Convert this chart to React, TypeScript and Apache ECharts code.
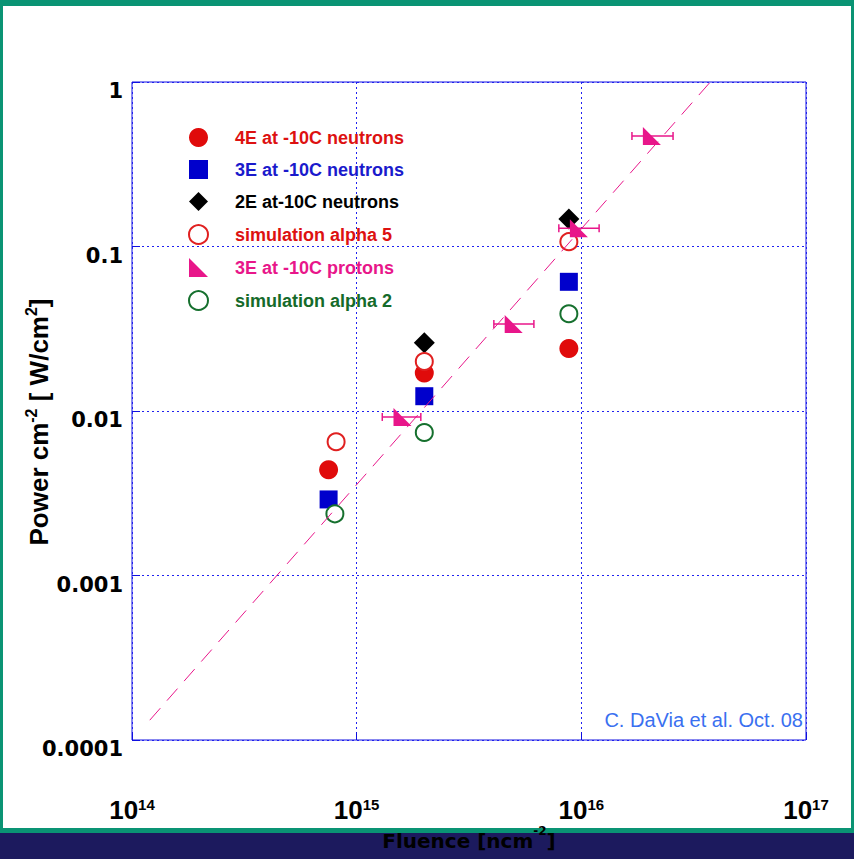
import React, { useEffect, useRef } from 'react';
import * as echarts from 'echarts';

// ---- tick labels ----
const xTickExponents = ['14', '15', '16', '17'];
const yTickValues = [1e-4, 1e-3, 1e-2, 1e-1, 1];
const yTickLabels = ['0.0001', '0.001', '0.01', '0.1', '1'];

// ---- series data (fluence [n cm^-2], power [W/cm^2]) ----
const n4E_x = [7.5e14, 2.0e15, 8.8e15];
const n4E_y = [0.0044, 0.017, 0.024];

const n3E_x = [7.5e14, 2.0e15, 8.8e15];
const n3E_y = [0.0029, 0.0123, 0.061];

const n2E_x = [2.0e15, 8.8e15];
const n2E_y = [0.026, 0.147];

const simA5_x = [8.1e14, 2.0e15, 8.8e15];
const simA5_y = [0.0065, 0.02, 0.107];

const p3E_x = [1.6e15, 5.0e15, 9.75e15, 2.06e16];
const p3E_xLow = [1.3e15, 4.08e15, 7.94e15, 1.68e16];
const p3E_xHigh = [1.93e15, 6.15e15, 1.2e16, 2.56e16];
const p3E_y = [0.0092, 0.0338, 0.129, 0.47];

const simA2_x = [8.0e14, 2.0e15, 8.8e15];
const simA2_y = [0.00237, 0.0074, 0.039];

const fit_x = [1.2e14, 3.75e16];
const fit_y = [1.32e-4, 1.0];

const names = [
  '4E at -10C neutrons',
  '3E at -10C neutrons',
  '2E at-10C neutrons',
  'simulation alpha 5',
  '3E at -10C protons',
  'simulation alpha 2',
];

const RED = '#e00b0b';
const BLUE = '#0000cc';
const PINK = '#e8168a';
const GREEN = '#16702e';
const GRIDBLUE = '#1010e0';
const DOTBLUE = '#2020f0';

const pairs = (xs: number[], ys: number[]) => xs.map((x, i) => [x, ys[i]]);

const NARROW = "'Liberation Sans Narrow', 'Arial Narrow', 'Liberation Sans', Arial, sans-serif";
const SANS = "'Liberation Sans', Arial, Helvetica, sans-serif";
const DEJAVU = "'DejaVu Sans', Verdana, sans-serif";

export default function App() {
  const ref = useRef<HTMLDivElement>(null);

  useEffect(() => {
    document.body.style.margin = '0';
    if (!ref.current) return;
    const chart = echarts.init(ref.current, undefined, { renderer: 'svg' });

    const option: any = {
      animation: false,
      backgroundColor: 'transparent',
      graphic: [
        { type: 'rect', z: -100, silent: true, shape: { x: 0, y: 0, width: 854, height: 833 }, style: { fill: '#0a9474' } },
        { type: 'rect', z: -99, silent: true, shape: { x: 3, y: 6, width: 848, height: 822 }, style: { fill: '#ffffff' } },
        { type: 'rect', z: -99, silent: true, shape: { x: 0, y: 833, width: 854, height: 26 }, style: { fill: '#1c1a5e' } },
        {
          type: 'text',
          z: 10,
          x: 803,
          y: 720,
          style: {
            text: 'C. DaVia et al. Oct. 08',
            fill: '#3a70f0',
            fontSize: 20,
            fontFamily: SANS,
            align: 'right',
            verticalAlign: 'middle',
          },
        },
      ],
      grid: {
        left: 132,
        top: 82,
        width: 674,
        height: 658,
        outerBoundsMode: 'none',
        containLabel: false,
        show: true,
        borderColor: GRIDBLUE,
        borderWidth: 1,
        backgroundColor: 'transparent',
      },
      legend: {
        orient: 'vertical',
        left: 188,
        top: 128,
        padding: 0,
        itemWidth: 19,
        itemHeight: 19,
        itemGap: 13,
        selectedMode: false,
        textStyle: {
          fontFamily: SANS,
          fontWeight: 'bold',
          fontSize: 18,
          padding: [0, 0, 0, 22],
        },
        data: [
          { name: names[0], textStyle: { color: '#dd1111' } },
          { name: names[1], textStyle: { color: '#1a1acc' } },
          { name: names[2], textStyle: { color: '#000000' } },
          { name: names[3], textStyle: { color: '#dd1111' } },
          { name: names[4], textStyle: { color: PINK } },
          { name: names[5], textStyle: { color: '#156a2a' } },
        ],
      },
      xAxis: {
        type: 'log',
        logBase: 10,
        min: 1e14,
        max: 1e17,
        name: '{m|Fluence [ncm}{s|-2}{m|]}',
        nameLocation: 'middle',
        nameGap: 85,
        nameMoveOverlap: false,
        nameTextStyle: {
          rich: {
            m: { fontFamily: DEJAVU, fontWeight: 'bold', fontSize: 20, color: '#000', lineHeight: 26, verticalAlign: 'bottom' },
            s: { fontFamily: DEJAVU, fontWeight: 'bold', fontSize: 12, color: '#000', verticalAlign: 'top' },
          },
        },
        axisLine: { show: false },
        axisTick: { show: true, inside: true, length: 8, lineStyle: { color: GRIDBLUE } },
        splitLine: { show: true, lineStyle: { color: DOTBLUE, type: [2, 3], width: 1, opacity: 1 } },
        axisLabel: {
          margin: 57,
          color: '#000',
          fontFamily: NARROW,
          fontWeight: 'bold',
          fontSize: 26,
          formatter: (v: number) => `10{sup|${xTickExponents[Math.round(Math.log10(v)) - 14]}}`,
          rich: {
            sup: { fontFamily: NARROW, fontWeight: 'bold', fontSize: 15, color: '#000', verticalAlign: 'top' },
          },
        },
      },
      yAxis: {
        type: 'log',
        logBase: 10,
        min: 1e-4,
        max: 1,
        name: '{m|Power cm}{s|-2}{m| [ W/cm}{s|2}{m|]}',
        nameLocation: 'middle',
        nameRotate: 90,
        nameGap: 80,
        nameMoveOverlap: false,
        nameTextStyle: {
          padding: [0, 22, 0, 0],
          rich: {
            m: { fontFamily: NARROW, fontWeight: 'bold', fontSize: 26, color: '#000', lineHeight: 29, verticalAlign: 'bottom' },
            s: { fontFamily: NARROW, fontWeight: 'bold', fontSize: 16, color: '#000', verticalAlign: 'top' },
          },
        },
        axisLine: { show: false },
        axisTick: { show: true, inside: true, length: 8, lineStyle: { color: GRIDBLUE } },
        splitLine: { show: true, lineStyle: { color: DOTBLUE, type: [2, 3], width: 1, opacity: 1 } },
        axisLabel: {
          margin: 9,
          color: '#000',
          fontFamily: DEJAVU,
          fontWeight: 'bold',
          fontSize: 21,
          verticalAlign: 'top',
          lineHeight: 18,
          formatter: (v: number) => {
            let best = 0;
            for (let i = 0; i < yTickValues.length; i++) {
              if (Math.abs(Math.log10(yTickValues[i]) - Math.log10(v)) < Math.abs(Math.log10(yTickValues[best]) - Math.log10(v))) best = i;
            }
            return yTickLabels[best];
          },
        },
      },
      series: [
        {
          name: names[0],
          type: 'scatter',
          symbol: 'circle',
          symbolSize: 19,
          itemStyle: { color: RED, opacity: 1 },
          data: pairs(n4E_x, n4E_y),
          z: 3,
        },
        {
          name: names[1],
          type: 'scatter',
          symbol: 'rect',
          symbolSize: 18,
          itemStyle: { color: BLUE, opacity: 1 },
          data: pairs(n3E_x, n3E_y),
          z: 3,
        },
        {
          name: names[2],
          type: 'scatter',
          symbol: 'diamond',
          symbolSize: 21,
          itemStyle: { color: '#000000', opacity: 1 },
          data: pairs(n2E_x, n2E_y),
          z: 3,
        },
        {
          name: names[3],
          type: 'scatter',
          symbol: 'emptyCircle',
          symbolSize: 17,
          itemStyle: { color: '#e02020', borderWidth: 1.5, opacity: 1 },
          data: pairs(simA5_x, simA5_y),
          z: 3,
        },
        {
          name: names[4],
          type: 'scatter',
          symbol: 'path://M0,0L0,10L10,10Z',
          symbolSize: 18,
          itemStyle: { color: PINK, opacity: 1 },
          data: pairs(p3E_x, p3E_y),
          z: 4,
        },
        {
          name: names[5],
          type: 'scatter',
          symbol: 'emptyCircle',
          symbolSize: 17,
          itemStyle: { color: GREEN, borderWidth: 1.5, opacity: 1 },
          data: pairs(simA2_x, simA2_y),
          z: 3,
        },
        {
          name: 'proton x errors',
          type: 'custom',
          silent: true,
          z: 4,
          data: p3E_x.map((_, i) => [p3E_xLow[i], p3E_xHigh[i], p3E_y[i]]),
          encode: { x: [0, 1], y: 2 },
          renderItem: (_params: any, api: any) => {
            const lo = api.coord([api.value(0), api.value(2)]);
            const hi = api.coord([api.value(1), api.value(2)]);
            const cap = 4;
            const st = { stroke: PINK, lineWidth: 1.5 };
            return {
              type: 'group',
              children: [
                { type: 'line', shape: { x1: lo[0], y1: lo[1], x2: hi[0], y2: hi[1] }, style: st },
                { type: 'line', shape: { x1: lo[0], y1: lo[1] - cap, x2: lo[0], y2: lo[1] + cap }, style: st },
                { type: 'line', shape: { x1: hi[0], y1: hi[1] - cap, x2: hi[0], y2: hi[1] + cap }, style: st },
              ],
            };
          },
        },
        {
          name: 'fit',
          type: 'line',
          symbol: 'none',
          silent: true,
          z: 5,
          lineStyle: { color: PINK, width: 1, type: [16, 10] },
          data: pairs(fit_x, fit_y),
        },
      ],
    };

    chart.setOption(option);
    return () => {
      chart.dispose();
    };
  }, []);

  return <div ref={ref} style={{ width: 854, height: 859 }} />;
}
